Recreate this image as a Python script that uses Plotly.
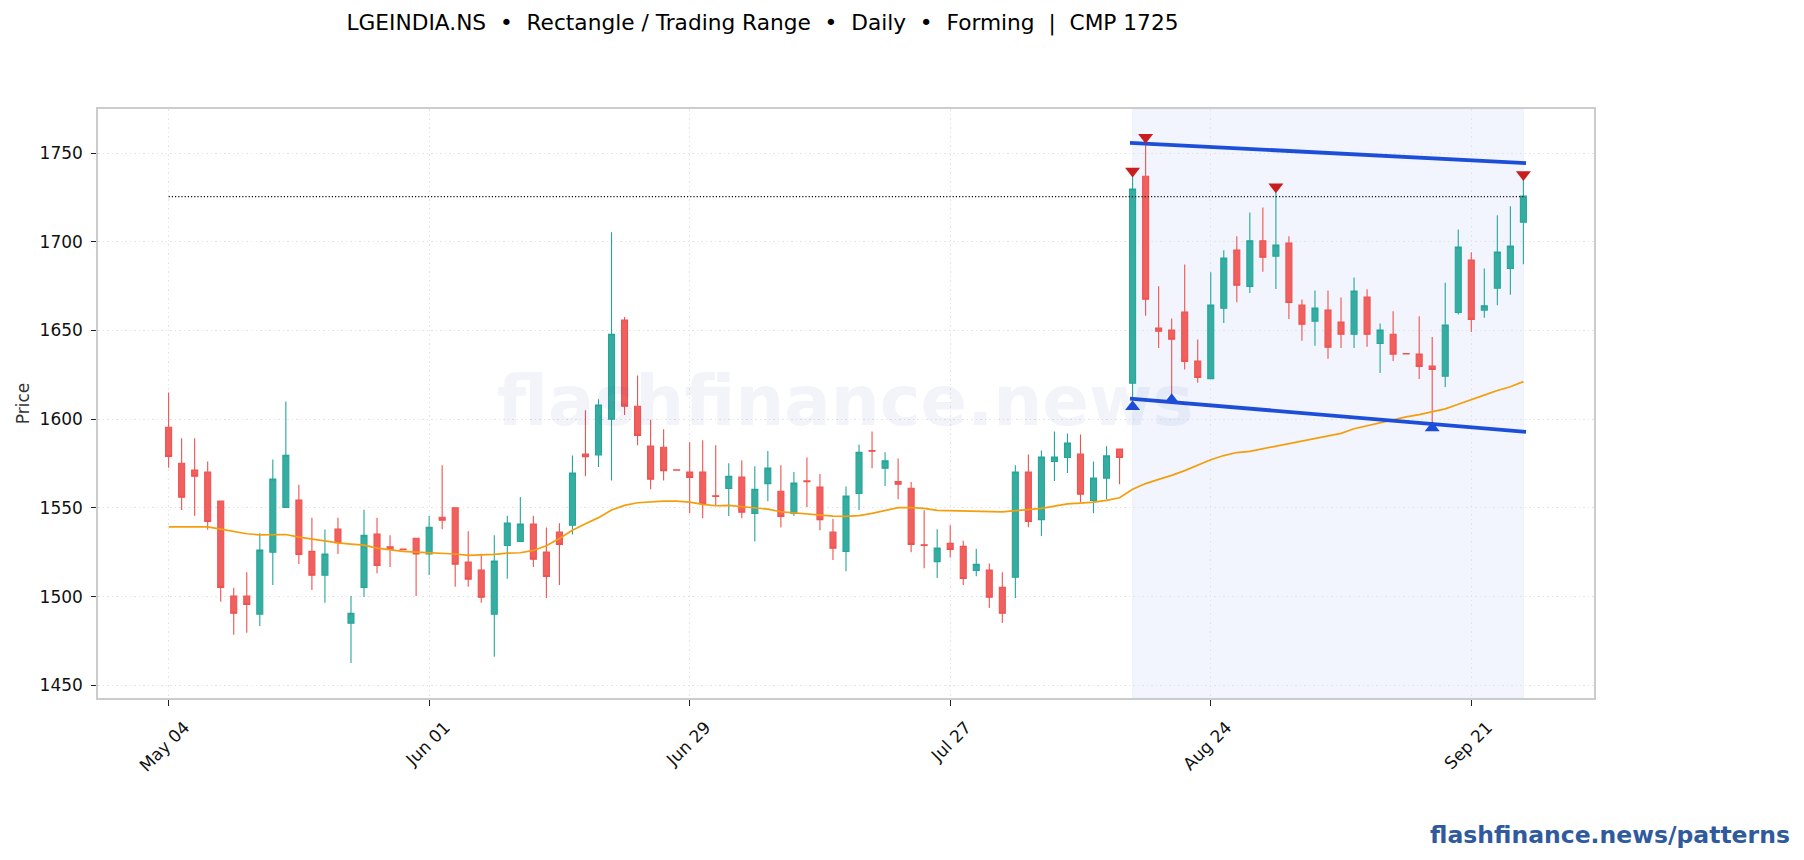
import plotly.graph_objects as go

title_text = "LGEINDIA.NS\u00a0\u00a0•\u00a0\u00a0Rectangle / Trading Range\u00a0\u00a0•\u00a0\u00a0Daily\u00a0\u00a0•\u00a0\u00a0Forming\u00a0\u00a0|\u00a0\u00a0CMP 1725"

bars = list(range(105))
opens = [1595.5,1575.2,1571.3,1570.2,1553.8,1500.3,1500.3,1490,1525,1550.3,1554.4,1525.5,1512,1538,1485,1505.2,1535.2,1528.1,1526.8,1532.9,1524,1544.7,1550,1519.5,1515,1490,1528.8,
         1531.1,1540.9,1525.1,1536.3,1540.2,1580.4,1579.9,1600,1655.9,1607.3,1584.9,1584.2,1571.4,1570.2,1570.2,1556.8,1560.9,1567.4,1546.9,1563.7,1559.4,1546.9,1565.2,1561.8,1536.3,1525.5,1558.1,1582.3,1572.4,1564.8,1561.1,
         1529.2,1519.7,1530,1528.3,1514.7,1515,1505.2,1510.9,1570.2,1543.4,1576.2,1578.4,1580.4,1554.2,1566.8,1583.2,1620.3,1737,1651.4,1650.3,1660.4,1632.8,1622.9,1662.6,1695.4,1674.9,1700.6,1691.9,1699.3,1664.3,1655.2,
         1661.5,1654.8,1647.9,1668.8,1642.7,1647.9,1637,1636.7,1630,1624.2,1660.2,1689.8,1661.5,1673.8,1685,1711.1]
highs = [1615.1,1589.2,1589.2,1576.2,1553.8,1505,1513.7,1535.7,1577.3,1610,1563,1544.5,1537.8,1544.5,1500.3,1549,1544.5,1534.6,1526.8,1532.9,1545.4,1574.1,1550,1536.8,1524.2,1534.6,1545.6,
         1556.2,1545.6,1538.9,1541.3,1579.5,1605,1611.2,1705.4,1657.6,1624.6,1599.7,1594.4,1571.4,1587,1588.1,1585.3,1575.2,1576.9,1573.5,1582.1,1574.1,1570.2,1578.4,1569.1,1543.7,1562,1585.8,1593.1,1581.4,1577.8,1564.6,
         1548.6,1538,1540.2,1531.4,1527,1518.6,1513.7,1574.1,1580.1,1582.3,1593.1,1592,1591.4,1576.2,1584.7,1583.2,1737,1756,1674.9,1656.8,1687.2,1644.9,1682.9,1695.2,1703.2,1716.5,1719.3,1728.4,1703.2,1667.5,1672.5,
         1672.5,1668.6,1679.9,1673.2,1654,1660.9,1637,1658,1646.4,1677,1707,1694.1,1685,1715,1720,1734.9]
lows = [1572.6,1548.8,1545.6,1537.6,1497,1478.5,1479.6,1483.4,1506.5,1550,1518.4,1503.7,1496.5,1524,1462.5,1499.8,1513.2,1516.7,1526.4,1500.3,1512.2,1538,1505.5,1505.5,1496.5,1466,1510,
        1531,1516.7,1499.2,1506.5,1535,1567.8,1573,1565.5,1602.4,1585.3,1560.5,1565.5,1571.2,1546.9,1544.1,1551.4,1545.4,1544.1,1531.1,1553.8,1538.9,1545.4,1550.3,1537.4,1520.6,1514.3,1548.8,1572.4,1562.3,1554.9,1525,
        1516,1510.4,1522,1506.5,1511.5,1493.6,1485.1,1499.2,1539.1,1534.2,1565.2,1569.6,1553.2,1546.9,1554.7,1563.3,1610.8,1658.3,1640.1,1612.9,1628,1620.5,1622.9,1654.2,1666,1671.2,1683.1,1673.4,1656.5,1644.2,1641.4,
        1634.1,1640.1,1640.1,1640.8,1626.1,1632.8,1636.8,1622.7,1597.8,1618.1,1659.1,1649.2,1657.2,1664.3,1670.1,1687.4]
closes = [1579,1556,1567.8,1542.4,1505.2,1490.6,1495.5,1526.2,1566.3,1579.7,1523.8,1512,1524,1530.3,1490.6,1534.6,1517.6,1526.6,1526.4,1524,1539.1,1543,1518.2,1509.8,1499.6,1520,1541.5,
          1540.9,1521,1511.3,1529.4,1569.6,1578.8,1608,1647.9,1607.3,1590.9,1566.1,1571,1571.2,1567.2,1552.3,1556.4,1567.8,1547.5,1560.5,1572.4,1545.2,1564,1564.8,1543.4,1527.3,1556.6,1581.4,1581.9,1576.5,1563.3,1529.4,
          1528.8,1527.3,1526.6,1510.2,1518.2,1499.6,1490.6,1570.2,1542.4,1578.6,1578.6,1586.6,1557.7,1566.8,1579.3,1578.4,1729.7,1667.6,1649.6,1645.1,1632.6,1623.5,1664.3,1690.9,1675.5,1700.6,1691.3,1698.2,1665.8,1653.5,1662.6,
          1640.6,1647.9,1672.3,1647.9,1650.3,1636.7,1636.8,1629.8,1628,1653.1,1697.1,1656.3,1663.9,1694.3,1697.6,1725.8]
average = [1539.3,1539.3,1539.6,1539.3,1538,1536.7,1535.4,1534.8,1535,1535,1533.5,1532.4,1531.4,1530.3,1529.6,1529,1527.3,1526.2,1525.5,1525,1524.7,1524,1524,1523.2,1523.4,1523.8,1524.5,
           1524.7,1526,1528.6,1532.7,1537.4,1541,1544.5,1548.8,1551.4,1552.9,1553.4,1553.8,1553.8,1553.2,1552,1551.2,1551.4,1550.8,1549.9,1549.3,1547.8,1547.1,1546.7,1546,1545.4,1545.2,1545.6,1546.9,1548.6,1550.1,1550.1,
           1549.7,1548.6,1548.4,1548.4,1548.2,1547.8,1547.8,1548.4,1549,1549.7,1551,1552.3,1552.7,1553.2,1554.2,1555.7,1560.5,1563.7,1566.1,1568.3,1571,1574.1,1577.1,1579.5,1581.2,1581.9,1583.4,1584.9,1586.4,1587.7,1589.4,
           1590.5,1592,1594.6,1596.3,1598,1599.8,1601.3,1602.6,1604.1,1605.8,1608.4,1610.8,1613.6,1616.2,1618.3,1621.2]

tick_bars = [0,20,40,60,80,100]
tick_labels = ["May 04","Jun 01","Jun 29","Jul 27","Aug 24","Sep 21"]
price_ticks = [1450,1500,1550,1600,1650,1700,1750]

cmp_x = [0,104]
cmp_y = [1725.5,1725.5]
upper_x = [73.8,104.2]
upper_y = [1755.8,1744.4]
lower_x = [73.8,104.2]
lower_y = [1611.6,1592.9]
peak_x = [74,75,85,104]
peak_y = [1740,1759,1731,1738]
trough_x = [74,77,97]
trough_y = [1607,1611,1595]
band_x = [74,104]

W, H = 1804, 860
L, R, T, B = 97.5, 1593.7, 109.4, 698.3

fig = go.Figure()
fig.add_trace(go.Candlestick(
    x=bars, open=opens, high=highs, low=lows, close=closes,
    increasing=dict(line=dict(color="#26a69a", width=1.1), fillcolor="rgba(38,166,154,0.92)"),
    decreasing=dict(line=dict(color="#ef5350", width=1.1), fillcolor="rgba(239,83,80,0.92)"),
    whiskerwidth=0, showlegend=False))
fig.add_trace(go.Scatter(x=bars, y=average, mode="lines", line=dict(color="#f59e0b", width=1.7), showlegend=False))
fig.add_trace(go.Scatter(x=cmp_x, y=cmp_y, mode="lines", line=dict(color="#111111", width=1.2, dash="1.2px,2px"), showlegend=False))
fig.add_trace(go.Scatter(x=upper_x, y=upper_y, mode="lines", line=dict(color="#1d4ed8", width=3.8), showlegend=False))
fig.add_trace(go.Scatter(x=lower_x, y=lower_y, mode="lines", line=dict(color="#1d4ed8", width=3.8), showlegend=False))
fig.add_trace(go.Scatter(x=peak_x, y=peak_y, mode="markers", marker=dict(symbol="triangle-down", color="#c81e1e", size=13), showlegend=False))
fig.add_trace(go.Scatter(x=trough_x, y=trough_y, mode="markers", marker=dict(symbol="triangle-up", color="#1d4ed8", size=13), showlegend=False))

fig.add_shape(type="rect", xref="x", yref="paper", x0=band_x[0], x1=band_x[1], y0=0, y1=1,
              fillcolor="rgba(29,78,216,0.06)", line=dict(color="rgba(29,78,216,0.05)", width=1), layer="below")

fig.add_annotation(text="<b>flashfinance.news</b>", xref="paper", yref="paper",
                   x=(845-L)/(R-L), y=1-(401-T)/(B-T), xanchor="center", yanchor="middle", showarrow=False,
                   font=dict(family="DejaVu Sans", size=68.8, color="rgba(30,64,175,0.06)"))
fig.add_annotation(text="<b>flashfinance.news/patterns</b>", xref="paper", yref="paper",
                   x=(1792-L)/(R-L), y=1-(835-T)/(B-T), xanchor="right", yanchor="middle", showarrow=False,
                   font=dict(family="DejaVu Sans", size=23.5, color="#2f5a9e"))

fig.update_layout(
    width=W, height=H, autosize=False,
    margin=dict(l=L, r=W-R, t=T, b=H-B, pad=0),
    paper_bgcolor="white", plot_bgcolor="white",
    font=dict(family="DejaVu Sans", color="#111111"),
    boxgap=0.54, boxgroupgap=0,
    showlegend=False,
    title=dict(text=title_text, x=762.5/W, xanchor="center", xref="container",
               y=1-22/H, yanchor="middle", font=dict(family="DejaVu Sans", size=21.7, color="#000000")),
    xaxis=dict(type="linear", range=[-5.42,109.42], tickmode="array", tickvals=tick_bars, ticktext=tick_labels,
               tickangle=-45, ticks="outside", ticklen=6, tickwidth=1.2, tickcolor="#222222",
               tickfont=dict(size=17, color="#111111"), ticklabelshift=16, ticklabelstandoff=5,
               showgrid=True, gridcolor="#e2e4e8", griddash="1.5px,3px", gridwidth=1,
               showline=True, linecolor="#cccccc", linewidth=1.5, mirror=True, zeroline=False,
               rangeslider=dict(visible=False)),
    yaxis=dict(range=[1442.8,1774.9], tickmode="array", tickvals=price_ticks, ticks="outside", ticklen=5, tickwidth=1.2, tickcolor="#222222",
               tickfont=dict(size=17, color="#111111"), ticklabelstandoff=5,
               showgrid=True, gridcolor="#e2e4e8", griddash="1.5px,3px", gridwidth=1,
               showline=True, linecolor="#cccccc", linewidth=1.5, mirror=True, zeroline=False,
               title=dict(text="Price", font=dict(size=17, color="#333333"), standoff=6)),
)

fig.write_html("out.html", post_script="document.body.style.margin='0';", config=dict(displayModeBar=False))
